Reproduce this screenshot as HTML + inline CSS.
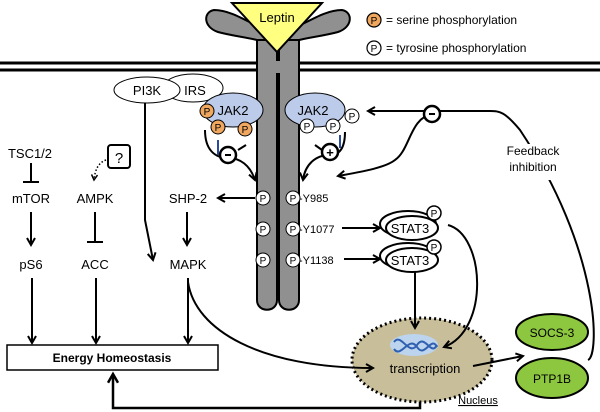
<!DOCTYPE html>
<html><head><meta charset="utf-8"><style>
html,body{margin:0;padding:0;background:#fff;}
svg{display:block;font-family:"Liberation Sans",Arial,sans-serif;}
</style></head><body>
<svg width="600" height="412" viewBox="0 0 600 412" xmlns="http://www.w3.org/2000/svg">
<defs>
<marker id="a" viewBox="0 0 10 10" refX="8" refY="5" markerWidth="5" markerHeight="5" orient="auto"><path d="M1,1 L8,5 L1,9" fill="none" stroke="#000" stroke-width="2"/></marker>
</defs>
<!-- membrane -->
<line x1="0" y1="63" x2="600" y2="63" stroke="#000" stroke-width="3"/>
<line x1="0" y1="70" x2="600" y2="70" stroke="#000" stroke-width="3"/>
<!-- receptor -->
<path d="M277,48 C262,38 240,38 218,32 C203,27 203,12 214,10 C235,10 255,28 277,34 Z" fill="#909090" stroke="#000" stroke-width="2"/>
<path d="M279,48 C294,38 316,38 338,32 C353,27 353,12 342,10 C321,10 301,28 279,34 Z" fill="#909090" stroke="#000" stroke-width="2"/>
<path d="M257,40 L277,40 L277,300 C277,313 257,313 257,300 Z" fill="#909090" stroke="#000" stroke-width="2"/>
<path d="M279,40 L299,40 L299,300 C299,313 279,313 279,300 Z" fill="#909090" stroke="#000" stroke-width="2"/>
<rect x="258" y="61" width="40" height="12" fill="#909090"/>
<polygon points="232,3 322,3 277,52" fill="#ffff80" stroke="#000" stroke-width="2"/>
<text x="277" y="22" font-size="13" text-anchor="middle">Leptin</text>
<!-- legend -->
<circle cx="374" cy="20" r="7" fill="#f0a860" stroke="#000" stroke-width="1.2"/><text x="374" y="24" font-size="10" text-anchor="middle">P</text>
<text x="386" y="24" font-size="12">= serine phosphorylation</text>
<circle cx="374" cy="48" r="7" fill="#fff" stroke="#000" stroke-width="1.2"/><text x="374" y="52" font-size="10" text-anchor="middle">P</text>
<text x="386" y="52" font-size="12">= tyrosine phosphorylation</text>
<!-- PI3K IRS -->
<ellipse cx="193" cy="88" rx="30" ry="14" fill="#fff" stroke="#000"/>
<ellipse cx="147" cy="90" rx="33" ry="13" fill="#fff" stroke="#000"/>
<text x="147" y="95" font-size="13" text-anchor="middle">PI3K</text>
<text x="195" y="95" font-size="13" text-anchor="middle">IRS</text>
<!-- JAK2 left -->
<ellipse cx="233" cy="110" rx="30" ry="17" fill="#bccbea" stroke="#000"/>
<text x="233" y="115" font-size="13" text-anchor="middle">JAK2</text>
<g font-size="10" text-anchor="middle">
<circle cx="207" cy="111" r="7" fill="#f0a860" stroke="#000"/><text x="207" y="115">P</text>
<circle cx="218" cy="127" r="7" fill="#f0a860" stroke="#000"/><text x="218" y="131">P</text>
<circle cx="245" cy="129" r="7" fill="#f0a860" stroke="#000"/><text x="245" y="133">P</text>
</g>
<!-- JAK2 right -->
<ellipse cx="315" cy="110" rx="30" ry="17" fill="#bccbea" stroke="#000"/>
<text x="313" y="115" font-size="13" text-anchor="middle">JAK2</text>
<g font-size="10" text-anchor="middle">
<circle cx="307" cy="126" r="7" fill="#fff" stroke="#000"/><text x="307" y="130">P</text>
<circle cx="333" cy="126" r="7" fill="#fff" stroke="#000"/><text x="333" y="130">P</text>
<circle cx="352" cy="116" r="7" fill="#fff" stroke="#000"/><text x="352" y="120">P</text>
</g>
<!-- minus/plus loops -->
<path d="M205,130 C205,150 215,158 228,158 C240,158 250,165 255,180" fill="none" stroke="#000" stroke-width="2" marker-end="url(#a)"/>
<line x1="218" y1="140" x2="218" y2="155" stroke="#2a4a9a" stroke-width="2"/>
<line x1="238" y1="150" x2="246" y2="145" stroke="#000" stroke-width="2"/>
<circle cx="228" cy="155" r="8" fill="#fff" stroke="#000" stroke-width="2.5"/><line x1="225" y1="155" x2="231" y2="155" stroke="#000" stroke-width="2"/>
<path d="M345,132 C345,150 338,155 330,155 C315,155 305,165 303,180" fill="none" stroke="#000" stroke-width="2" marker-end="url(#a)"/>
<line x1="340" y1="135" x2="340" y2="148" stroke="#2a4a9a" stroke-width="2"/>
<line x1="315" y1="145" x2="322" y2="150" stroke="#000" stroke-width="2"/>
<circle cx="330" cy="152" r="8" fill="#fff" stroke="#000" stroke-width="2.5"/><text x="330" y="157" font-size="13" font-weight="bold" text-anchor="middle">+</text>
<!-- receptor P -->
<g font-size="10" text-anchor="middle">
<circle cx="263" cy="198" r="7" fill="#fff" stroke="#000"/><text x="263" y="202">P</text>
<circle cx="263" cy="229" r="7" fill="#fff" stroke="#000"/><text x="263" y="233">P</text>
<circle cx="263" cy="260" r="7" fill="#fff" stroke="#000"/><text x="263" y="264">P</text>
<circle cx="293" cy="198" r="7" fill="#fff" stroke="#000"/><text x="293" y="202">P</text>
<circle cx="293" cy="229" r="7" fill="#fff" stroke="#000"/><text x="293" y="233">P</text>
<circle cx="293" cy="260" r="7" fill="#fff" stroke="#000"/><text x="293" y="264">P</text>
</g>
<g font-size="11"><text x="299" y="202">-Y985</text><text x="299" y="233">-Y1077</text><text x="299" y="264">-Y1138</text></g>
<!-- STAT3 -->
<line x1="342" y1="228" x2="380" y2="228" stroke="#000" stroke-width="2" marker-end="url(#a)"/>
<line x1="344" y1="259" x2="380" y2="259" stroke="#000" stroke-width="2" marker-end="url(#a)"/>
<ellipse cx="408" cy="224" rx="28" ry="13" fill="#fff" stroke="#000" stroke-width="2"/>
<ellipse cx="412" cy="228" rx="26" ry="12" fill="#fff" stroke="#000" stroke-width="2"/>
<text x="410" y="233" font-size="13" text-anchor="middle">STAT3</text>
<circle cx="434" cy="213" r="7" fill="#fff" stroke="#000" stroke-width="1.5"/><text x="434" y="217" font-size="10" text-anchor="middle">P</text>
<ellipse cx="408" cy="256" rx="28" ry="13" fill="#fff" stroke="#000" stroke-width="2"/>
<ellipse cx="412" cy="260" rx="26" ry="12" fill="#fff" stroke="#000" stroke-width="2"/>
<text x="410" y="265" font-size="13" text-anchor="middle">STAT3</text>
<circle cx="434" cy="247" r="7" fill="#fff" stroke="#000" stroke-width="1.5"/><text x="434" y="251" font-size="10" text-anchor="middle">P</text>
<!-- nucleus -->
<ellipse cx="422" cy="360" rx="70" ry="42" fill="#c8bf9a" stroke="#000" stroke-width="3" stroke-dasharray="2,3"/>
<ellipse cx="414" cy="345" rx="24" ry="11" fill="#bcd4ee"/>
<path d="M394,342 C401,332 409,357 417,345 C425,333 431,357 437,345" fill="none" stroke="#3060b0" stroke-width="2"/>
<path d="M394,349 C401,359 409,335 417,347 C425,359 431,335 437,347" fill="none" stroke="#3060b0" stroke-width="2"/>
<text x="425" y="373" font-size="13" text-anchor="middle">transcription</text>
<text x="478" y="404" font-size="11" text-decoration="underline" text-anchor="middle">Nucleus</text>
<line x1="415" y1="272" x2="415" y2="328" stroke="#000" stroke-width="2" marker-end="url(#a)"/>
<path d="M448,225 C485,235 490,330 444,347" fill="none" stroke="#000" stroke-width="2" marker-end="url(#a)"/>
<line x1="473" y1="366" x2="523" y2="356" stroke="#000" stroke-width="2" marker-end="url(#a)"/>
<!-- SOCS PTP1B -->
<ellipse cx="552" cy="332" rx="36" ry="18" fill="#8dc63f" stroke="#000" stroke-width="2"/>
<text x="552" y="337" font-size="12" text-anchor="middle">SOCS-3</text>
<ellipse cx="552" cy="378" rx="36" ry="20" fill="#8dc63f" stroke="#000" stroke-width="2"/>
<text x="552" y="383" font-size="12" text-anchor="middle">PTP1B</text>
<!-- feedback -->
<path d="M588,360 C600,355 600,250 520,130 C505,112 500,111 490,111 L368,111" fill="none" stroke="#000" stroke-width="2" marker-end="url(#a)"/>
<path d="M432,114 C410,118 410,150 395,160 C385,168 360,172 338,176" fill="none" stroke="#000" stroke-width="2" marker-end="url(#a)"/>
<circle cx="432" cy="114" r="8" fill="#fff" stroke="#000" stroke-width="2.5"/><line x1="429" y1="114" x2="435" y2="114" stroke="#000" stroke-width="2"/>
<rect x="508" y="144" width="50" height="36" fill="#fff"/>
<text x="533" y="155" font-size="12" text-anchor="middle">Feedback</text>
<text x="533" y="171" font-size="12" text-anchor="middle">inhibition</text>
<!-- left pathway -->
<g font-size="13" text-anchor="middle">
<text x="30" y="158">TSC1/2</text>
<text x="31" y="203">mTOR</text>
<text x="31" y="269">pS6</text>
<text x="95" y="203">AMPK</text>
<text x="95" y="269">ACC</text>
<text x="188" y="203">SHP-2</text>
<text x="188" y="269">MAPK</text>
</g>
<line x1="31" y1="163" x2="31" y2="182" stroke="#000" stroke-width="2"/><line x1="23" y1="182" x2="39" y2="182" stroke="#000" stroke-width="2"/>
<line x1="95" y1="212" x2="95" y2="242" stroke="#000" stroke-width="2"/><line x1="87" y1="242" x2="103" y2="242" stroke="#000" stroke-width="2"/>
<rect x="108" y="145" width="22" height="23" rx="3" fill="#fff" stroke="#000" stroke-width="2"/>
<text x="119" y="163" font-size="15" text-anchor="middle">?</text>
<path d="M106,160 C98,163 95,170 94,180" fill="none" stroke="#000" stroke-width="1.5" stroke-dasharray="1.5,2" marker-end="url(#a)"/>
<line x1="31" y1="212" x2="31" y2="245" stroke="#000" stroke-width="2" marker-end="url(#a)"/>
<line x1="187" y1="212" x2="187" y2="245" stroke="#000" stroke-width="2" marker-end="url(#a)"/>
<line x1="255" y1="198" x2="218" y2="198" stroke="#000" stroke-width="2" marker-end="url(#a)"/>
<path d="M145,103 L145,220 L153,260" fill="none" stroke="#000" stroke-width="2" marker-end="url(#a)"/>
<line x1="32" y1="278" x2="32" y2="343" stroke="#000" stroke-width="2" marker-end="url(#a)"/>
<line x1="96" y1="278" x2="96" y2="343" stroke="#000" stroke-width="2" marker-end="url(#a)"/>
<line x1="188" y1="278" x2="188" y2="343" stroke="#000" stroke-width="2" marker-end="url(#a)"/>
<path d="M188,282 C195,330 260,368 373,368" fill="none" stroke="#000" stroke-width="2" marker-end="url(#a)"/>
<rect x="7" y="345" width="211" height="25" fill="#fff" stroke="#000" stroke-width="1.5"/>
<text x="112" y="362" font-size="12" font-weight="bold" text-anchor="middle">Energy Homeostasis</text>
<path d="M420,402 L420,408 L113,408 L113,374" fill="none" stroke="#000" stroke-width="2.5" marker-end="url(#a)"/>
</svg>
</body></html>
